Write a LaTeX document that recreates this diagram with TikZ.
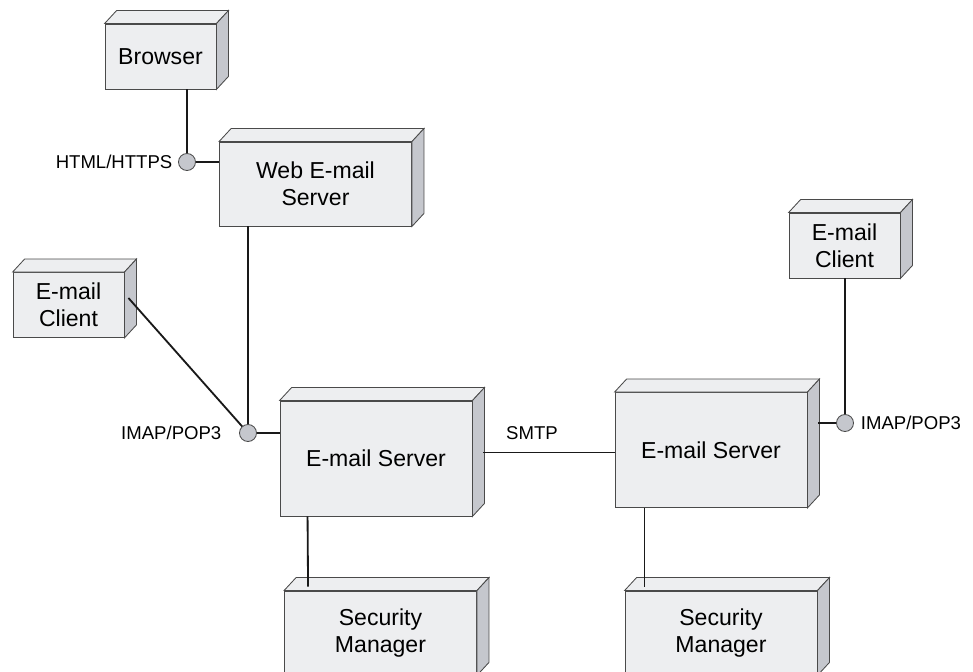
\documentclass[tikz,border=0pt]{standalone}
\usepackage{fontspec}
\setmainfont{Liberation Sans}
\usetikzlibrary{calc}

\definecolor{facefront}{HTML}{EDEEF0}
\definecolor{faceside}{HTML}{C5C7CD}
\definecolor{boxedge}{HTML}{4A4A4A}

\tikzset{
        boxline/.style={draw=boxedge, line width=0.6pt},
        node3d/.style={boxline, fill=facefront, align=center, inner sep=0pt, font=\fontsize{16.4}{19}\selectfont},
        boxsmall/.style={node3d, minimum width=2.775cm, minimum height=1.625cm},
        boxwide/.style={node3d, minimum width=4.8cm, minimum height=2.1cm},
        boxlarge/.style={node3d, minimum width=4.8cm, minimum height=2.875cm},
        port/.style={circle, boxline, fill=faceside, minimum size=0.425cm, inner sep=0pt},
        link/.style={draw=black!90, line width=1.3pt},
        proto/.style={font=\fontsize{13.2}{15}\selectfont}
}

% top and right faces of a node box
\newcommand{\depthfaces}[1]{%
        \draw[boxline, fill=facefront] (#1.north west) -- ++(12,-13) -- ($(#1.north east)+(12,-13)$) -- (#1.north east) -- cycle;
        \draw[boxline, fill=faceside] (#1.north east) -- ++(12,-13) -- ($(#1.south east)+(12,-13)$) -- (#1.south east) -- cycle;}

\begin{document}
\begin{tikzpicture}[x=0.025cm, y=-0.025cm]
        \useasboundingbox (0,0) rectangle (973,671);
        \clip (0,0) rectangle (973,671);

        \node[boxsmall] (browser) at (160.5,56.5) {Browser};
        \node[boxwide] (webserver) at (315.5,184) {Web E-mail\\Server};
        \node[boxsmall] (clientL) at (68.5,305) {E-mail\\Client};
        \node[boxlarge] (serverL) at (376,458.5) {E-mail Server};
        \node[boxlarge] (serverR) at (711,450) {E-mail Server};
        \node[boxsmall] (clientR) at (844.5,245.5) {E-mail\\Client};
        \node[boxwide] (securityL) at (380.5,633) {Security\\Manager};
        \node[boxwide] (securityR) at (721,633) {Security\\Manager};

        \depthfaces{browser}
        \depthfaces{webserver}
        \depthfaces{clientL}
        \depthfaces{serverL}
        \depthfaces{serverR}
        \depthfaces{clientR}
        \depthfaces{securityL}
        \depthfaces{securityR}

        \node[port, label={[proto, label distance=0.02cm]left:HTML/HTTPS}] (http) at (187,162) {};
        \node[port, label={[proto, label distance=0.32cm]left:IMAP/POP3}] (imapL) at (248,433) {};
        \node[port, label={[proto, label distance=0.05cm]right:IMAP/POP3}] (imapR) at (845,423) {};

        \draw[link] (http |- browser.south) -- (http);
        \draw[link] (http) -- (webserver.west |- http);
        \draw[link] (imapL |- webserver.south) -- (imapL);
        \draw[link] ($(clientL.east)+(4,-7)$) -- (imapL);
        \draw[link] (imapL) -- (serverL.west |- imapL);

        \coordinate (smtpL) at ($(serverL.east)+(11,-6)$);
        \draw[link] (smtpL) -- node[proto, above=5pt, pos=0.37] {SMTP} (serverR.west |- smtpL);

        \draw[link] ($(serverR.east |- imapR)+(11,0)$) -- (imapR);
        \draw[link] (imapR) -- (imapR |- clientR.south);

        \draw[link] ($(serverL.south west)+(28,0)$) -- ($(securityL.north west)+(24,-4)$);
        \draw[link] ($(serverR.south west)+(30,0)$) -- ($(securityR.north west)+(20,-4)$);
\end{tikzpicture}
\end{document}
